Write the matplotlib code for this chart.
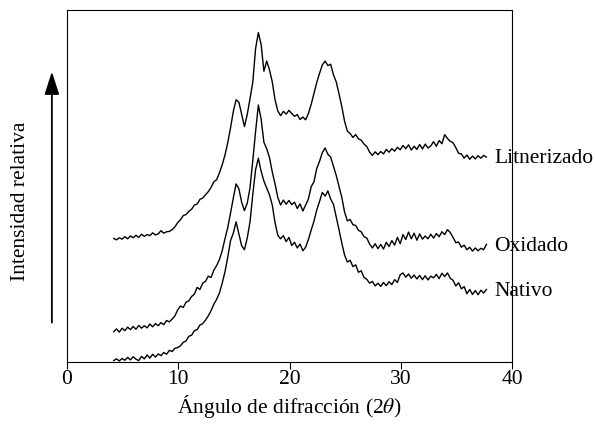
import matplotlib
matplotlib.use("Agg")
import matplotlib.pyplot as plt
import numpy as np

plt.rcParams['font.family'] = ['Liberation Serif', 'DejaVu Serif']
plt.rcParams['mathtext.fontset'] = 'stix'

# eje 2theta: paso de 0.25 grados desde 4.2
theta_start = 4.2
theta_step = 0.25

litnerizado = [
    35.1, 34.7, 35.3, 34.9, 35.6, 35.0, 35.8, 35.3, 36.0, 35.4,
    36.3, 35.7, 36.2, 35.9, 36.7, 36.1, 36.4, 37.3, 36.6, 37.0,
    37.1, 37.6, 38.4, 39.6, 40.4, 41.6, 41.9, 42.8, 43.4, 44.6,
    44.9, 46.2, 46.6, 47.5, 48.4, 49.6, 51.2, 51.8, 53.7, 56.0,
    58.8, 62.3, 66.5, 71.2, 74.5, 73.8, 70.4, 66.9, 70.3, 74.8,
    79.5, 89.0, 93.6, 90.2, 82.6, 85.5, 83.0, 79.6, 74.5, 71.3,
    70.0, 71.2, 70.4, 71.5, 70.6, 69.8, 70.3, 68.9, 69.6, 68.8,
    70.6, 73.2, 76.3, 79.4, 82.0, 84.4, 85.5, 84.2, 84.6, 81.6,
    79.6, 76.2, 72.6, 68.4, 65.6, 64.9, 63.8, 64.6, 63.4, 63.0,
    61.9, 61.2, 59.6, 58.7, 59.7, 58.9, 59.8, 59.1, 60.4, 59.6,
    60.6, 59.9, 61.0, 60.3, 61.5, 60.6, 61.7, 60.2, 61.3, 60.4,
    61.8, 60.5, 61.9, 60.8, 61.4, 62.6, 61.3, 62.9, 62.0, 64.6,
    63.5, 62.7, 62.3, 60.9, 59.3, 59.1, 57.9, 58.8, 57.6, 58.5,
    57.7, 58.6, 57.9, 58.7, 58.2,
]

oxidado = [
    8.6, 9.4, 8.5, 9.6, 8.9, 9.9, 9.2, 10.1, 9.3, 10.4,
    9.6, 10.3, 9.7, 10.8, 10.0, 10.9, 10.3, 11.2, 10.6, 11.8,
    11.4, 12.2, 13.1, 14.8, 15.9, 15.5, 17.0, 17.4, 18.6, 19.3,
    21.2, 20.6, 22.4, 22.9, 24.4, 24.0, 26.1, 27.4, 29.1, 31.6,
    35.0, 38.2, 42.3, 46.6, 50.6, 49.2, 45.4, 43.0, 45.1, 49.5,
    57.2, 65.4, 73.0, 69.0, 62.4, 60.6, 58.1, 54.0, 50.6, 46.7,
    44.6, 46.0, 44.8, 45.9, 44.7, 45.4, 43.6, 44.9, 42.9, 44.6,
    46.3, 49.8, 51.2, 55.0, 57.0, 59.5, 60.8, 59.0, 58.2, 55.6,
    53.0, 49.9, 46.8, 42.6, 40.1, 40.5, 39.0, 38.8, 37.4, 37.0,
    35.6, 35.2, 33.5, 32.4, 33.6, 32.2, 33.4, 32.1, 34.0, 32.8,
    34.5, 33.2, 35.4, 33.6, 36.2, 34.8, 36.9, 35.0, 36.6, 34.6,
    36.4, 34.9, 35.8, 35.0, 36.3, 35.2, 36.5, 35.6, 37.0, 36.2,
    37.6, 36.8, 35.4, 33.9, 34.1, 32.6, 33.2, 31.9, 32.6, 31.5,
    32.4, 31.6, 32.3, 31.9, 33.4,
]

nativo = [
    0.4, 0.9, 0.3, 1.0, 0.5, 1.3, 0.6, 1.5, 0.8, 0.4,
    1.6, 0.9, 2.0, 1.1, 2.2, 1.4, 2.3, 1.8, 2.7, 2.2,
    3.3, 3.0, 3.9, 4.1, 4.6, 5.6, 6.0, 7.3, 7.6, 8.9,
    9.2, 10.5, 10.9, 11.9, 13.1, 14.6, 16.4, 17.8, 19.6, 22.4,
    25.6, 29.8, 34.5, 36.6, 39.8, 36.4, 33.0, 31.9, 35.2, 39.8,
    47.6, 54.6, 57.9, 54.2, 51.4, 49.4, 47.5, 44.6, 39.6, 36.0,
    35.0, 35.9, 34.2, 35.4, 33.1, 34.0, 32.4, 33.5, 31.6, 32.6,
    34.8, 37.5, 40.0, 43.2, 45.6, 48.2, 47.1, 48.6, 46.3, 44.8,
    41.2, 37.6, 33.8, 30.4, 28.4, 28.9, 27.1, 27.6, 25.5, 25.9,
    24.0, 23.5, 22.4, 22.9, 21.6, 22.4, 21.5, 22.6, 21.7, 22.8,
    22.0, 23.4, 22.6, 24.8, 25.3, 24.1, 25.0, 23.8, 24.7, 23.6,
    24.6, 23.4, 24.5, 23.3, 24.4, 23.9, 24.9, 23.7, 25.2, 24.3,
    25.3, 23.8, 23.2, 21.6, 22.5, 20.8, 21.4, 19.4, 20.6, 19.2,
    20.3, 19.1, 20.4, 19.6, 20.6,
]

series = [('Litnerizado', litnerizado), ('Oxidado', oxidado), ('Nativo', nativo)]
two_theta = theta_start + theta_step * np.arange(len(litnerizado))

fs = 15.5
fig = plt.figure(figsize=(5.95, 4.26), dpi=100)
ax = fig.add_axes([67/595, 64/426, 445/595, 352/426])

for name, vals in series:
    ax.plot(two_theta, vals, color='black', linewidth=1.0)
    ax.text(38.4, vals[-1] - 0.5, name, ha='left', va='center', fontsize=fs,
            clip_on=False)

ax.set_xlim(0, 40)
ax.set_ylim(0, 100)
ax.set_xticks([0, 10, 20, 30, 40])
ax.set_yticks([])
ax.tick_params(axis='x', direction='out', length=5, width=0.8, labelsize=fs, pad=1)
for sp in ax.spines.values():
    sp.set_linewidth(0.8)

ax.set_xlabel(r'Ángulo de difracción (2$\theta$)', fontsize=fs, labelpad=3)

# flecha de intensidad
ax.annotate('', xy=(-0.034, 0.825), xytext=(-0.034, 0.112),
            xycoords='axes fraction', textcoords='axes fraction',
            arrowprops=dict(arrowstyle='-|>,head_length=1.4,head_width=0.45',
                            color='black', lw=1.3, shrinkA=0, shrinkB=0))
fig.text(21/595, 1 - 201/426, 'Intensidad relativa', rotation=90,
         ha='center', va='center', fontsize=fs)

fig.savefig('out.png', dpi=100)
